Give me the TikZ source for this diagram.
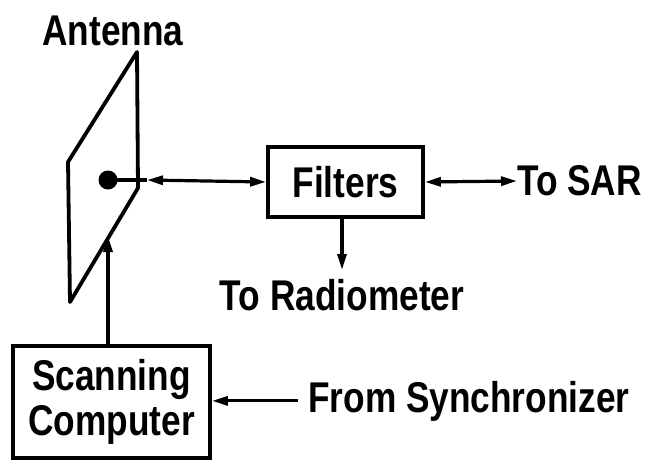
\documentclass[tikz,border=0pt]{standalone}
\usepackage{fontspec}
\setmainfont{Liberation Sans}[FakeStretch=0.82]
\usetikzlibrary{arrows.meta}
\begin{document}
\begin{tikzpicture}[x=1pt,y=-1pt,
  lbl/.style={font=\fontsize{43}{45}\selectfont\bfseries, inner sep=0pt},
  boxnode/.style={draw, line width=3.8pt, font=\fontsize{43}{45}\selectfont\bfseries, inner sep=0pt, align=center},
  conn/.style={line width=3.2pt},
  tip/.style={-{Triangle[length=16pt,width=9pt]}},
  tips/.style={{Triangle[length=16pt,width=9pt]}-{Triangle[length=16pt,width=9pt]}}]
\useasboundingbox (0,0) rectangle (646,461);
% antenna
\node[lbl, anchor=base] (antlbl) at (113,45) {Antenna};
\draw[line width=3.8pt, line join=round] (137,52) -- (138,188) -- (70,302) -- (68,162) -- cycle;
\node[circle, fill, inner sep=0pt, minimum size=19pt] (dot) at (108,180) {};
\coordinate (c1) at (147,180);
\coordinate (edge) at (108,236);
% filters
\node[boxnode, minimum width=155pt, minimum height=70pt] (filt) at (345.5,182) {Filters};
\node[lbl, anchor=west] (sar) at (517,181) {To SAR};
\node[lbl, anchor=base] (rad) at (342,310) {To Radiometer};
\coordinate (radtop) at (342,270);
% scanning computer
\node[boxnode, minimum width=197pt, minimum height=112pt] (scan) at (111.5,402) {Scanning\\[0pt]Computer};
\node[lbl, anchor=base west] (sync) at (308,412) {From Synchronizer};
% connectors
\draw[conn] (dot.center) -- (c1);
\draw[conn, tips] (c1) -- (filt.west);
\draw[conn, tips] (filt.east) -- (sar.west);
\draw[conn, tip] (filt.south -| radtop) -- (radtop);
\draw[conn, tip] (scan.north -| edge) -- (edge);
\draw[conn, tip] ([xshift=-10pt]sync.west) -- (scan.east |- sync.west);
\end{tikzpicture}
\end{document}
